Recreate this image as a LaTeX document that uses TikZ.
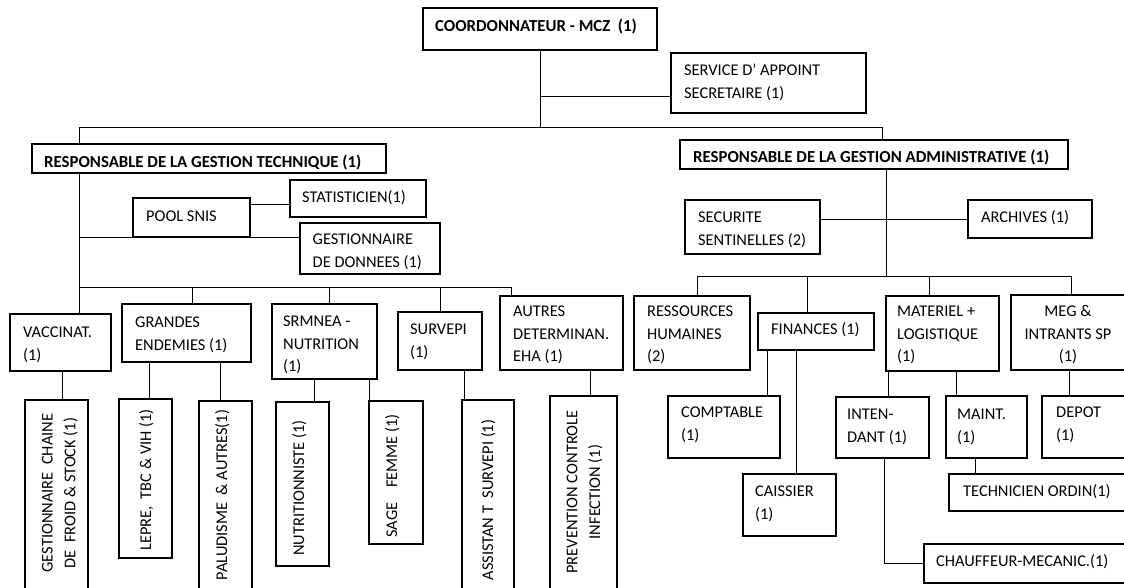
\documentclass[tikz,border=0pt]{standalone}
\usepackage{fontspec}
\setmainfont{Carlito}
\newcommand\fs{\fontsize{16.4}{22.7}\selectfont}
\newcommand\fsb{\fontsize{16.8}{22.7}\selectfont\bfseries}
\newcommand\mybox[5]{\node[boxs, minimum width={#4-#2}, minimum height={#5-#3}] (#1) at ({(#2+#4)/2},{(#3+#5)/2}) {};}
\begin{document}
\begin{tikzpicture}[x=1pt,y=-1pt,
  boxs/.style={draw, line width=1.1pt, inner sep=0pt, outer sep=0pt},
  lbl/.style={inner sep=0pt, anchor=north west, align=left, font=\fs},
  blbl/.style={lbl, font=\fsb},
  vlbl/.style={inner sep=0pt, rotate=90, align=center, font=\fs},
  cn/.style={line width=0.9pt}]
\useasboundingbox (0,0) rectangle (1124,587);
\clip (0,0) rectangle (1124,587);

% ---------- boxes ----------
\mybox{coord}{423}{8}{657}{50}
\mybox{sec}{671}{53}{866}{113}
\mybox{tech}{32}{144}{386}{173}
\mybox{admin}{680}{140}{1068}{169}
\mybox{pool}{133}{198}{250}{237}
\mybox{stat}{290}{180}{426}{217}
\mybox{gest}{300}{223}{440}{274}
\mybox{secu}{685}{200}{820}{254}
\mybox{arch}{968}{200}{1092}{238}
\mybox{vacc}{10}{314}{111}{371}
\mybox{gend}{122}{304}{251}{362}
\mybox{srm}{272}{304}{377}{379}
\mybox{surv}{398}{312}{482}{370}
\mybox{autres}{500}{296}{623}{370}
\mybox{rh}{634}{296}{750}{370}
\mybox{fin}{758}{313}{874}{350}
\mybox{mat}{886}{296}{999}{371}
\mybox{meg}{1011}{295}{1130}{370}
\mybox{comp}{668}{396}{780}{458}
\mybox{cais}{743}{474}{836}{536}
\mybox{inte}{836}{397}{929}{458}
\mybox{maint}{946}{396}{1027}{458}
\mybox{depot}{1042}{396}{1130}{458}
\mybox{tord}{949}{474}{1130}{511}
\mybox{chauf}{924}{544}{1130}{583}
\mybox{gcf}{25}{400}{88}{600}
\mybox{lepre}{119}{399}{172}{558}
\mybox{palu}{199}{401}{252}{600}
\mybox{nutri}{276}{402}{329}{566}
\mybox{sage}{369}{401}{423}{544}
\mybox{assist}{462}{400}{514}{600}
\mybox{prev}{550}{396}{617}{600}

% ---------- labels ----------
\node[blbl] (coord-t) at (435,15.3) {\strut COORDONNATEUR - MCZ~~(1)};
\node[lbl] (sec-t) at (684,59.3) {\strut SERVICE D’ APPOINT\\SECRETAIRE (1)};
\node[blbl] (tech-t) at (44,151) {\strut RESPONSABLE DE LA GESTION TECHNIQUE (1)};
\node[blbl] (admin-t) at (693,146.3) {\strut RESPONSABLE DE LA GESTION ADMINISTRATIVE (1)};
\node[lbl] (pool-t) at (146,205.3) {\strut POOL SNIS};
\node[lbl] (stat-t) at (302,186.3) {\strut STATISTICIEN(1)};
\node[lbl] (gest-t) at (312.5,228.3) {\strut GESTIONNAIRE\\DE DONNEES (1)};
\node[lbl] (secu-t) at (698,206.3) {\strut SECURITE\\SENTINELLES (2)};
\node[lbl] (arch-t) at (981,206.3) {\strut ARCHIVES (1)};
\node[lbl] (vacc-t) at (23,321.3) {\strut VACCINAT.\\(1)};
\node[lbl] (gend-t) at (135,311.3) {\strut GRANDES\\ENDEMIES (1)};
\node[lbl] (srm-t) at (283,310.3) {\strut SRMNEA -\\NUTRITION\\(1)};
\node[lbl] (surv-t) at (410,318.6) {\strut SURVEPI\\(1)};
\node[lbl] (autres-t) at (513,300.3) {\strut AUTRES\\DETERMINAN.\\EHA (1)};
\node[lbl] (rh-t) at (647,300.3) {\strut RESSOURCES\\HUMAINES\\(2)};
\node[lbl] (fin-t) at (771,318.3) {\strut FINANCES (1)};
\node[lbl] (mat-t) at (897,300.3) {\strut MATERIEL +\\LOGISTIQUE\\(1)};
\node[lbl, anchor=north, align=center] (meg-t) at (1068,300.3) {\strut MEG \&\\INTRANTS SP\\(1)};
\node[lbl] (comp-t) at (681,401.3) {\strut COMPTABLE\\(1)};
\node[lbl] (cais-t) at (755,480.3) {\strut CAISSIER\\(1)};
\node[lbl] (inte-t) at (847,403.3) {\strut INTEN-\\DANT (1)};
\node[lbl] (maint-t) at (957,403.3) {\strut MAINT.\\(1)};
\node[lbl] (depot-t) at (1056,401.3) {\strut DEPOT\\(1)};
\node[lbl] (tord-t) at (963,480.3) {\strut TECHNICIEN ORDIN(1)};
\node[lbl] (chauf-t) at (936,550.3) {\strut CHAUFFEUR-MECANIC.(1)};

\node[vlbl] (gcf-t) at (59.5,493) {\strut GESTIONNAIRE~~CHAINE\\\strut DE~~FROID \& STOCK (1)};
\node[vlbl] (lepre-t) at (146.5,480) {\strut LEPRE,~~TBC \& VIH (1)};
\node[vlbl] (palu-t) at (222.5,495) {\strut PALUDISME~~\& AUTRES(1)};
\node[vlbl] (nutri-t) at (299.5,488) {\strut NUTRITIONNISTE (1)};
\node[vlbl] (sage-t) at (392.5,476) {\strut SAGE~~~~FEMME (1)};
\node[vlbl] (assist-t) at (488.5,500) {\strut ASSISTAN T~~SURVEPI (1)};
\node[vlbl] (prev-t) at (584.3,492) {\strut PREVENTION CONTROLE\\\strut INFECTION (1)};

% ---------- connectors: top ----------
\coordinate (busL) at (79,127);
\coordinate (busR) at (882,127);
\coordinate (sb) at (540,96);
\draw[cn] (coord.south) -- (coord.south |- busL);
\draw[cn] (sb) -- (sb -| sec.west);
\draw[cn] (tech.north -| busL) -- (busL) -- (busR) -- (busR |- admin.north);

% ---------- technical branch ----------
\coordinate (tL) at (79,287);
\coordinate (tR) at (511,287);
\draw[cn] (tech.south -| tL) -- (tL);
\draw[cn] (tL |- pool.south) -- (pool.south west);
\draw[cn] (pool.south east) -- (pool.south -| gest.west);
\coordinate (ps) at (250,204);
\draw[cn] (ps) -- (ps -| stat.west);
\draw[cn] (tL) -- (tR) -- (tR |- autres.north);
\draw[cn] (tL) -- (tL |- vacc.north);
\coordinate (t2) at (192,287); \draw[cn] (t2) -- (t2 |- gend.north);
\coordinate (t3) at (329,287); \draw[cn] (t3) -- (t3 |- srm.north);
\coordinate (t4) at (440,287); \draw[cn] (t4) -- (t4 |- surv.north);

\coordinate (x1) at (62,0);  \draw[cn] (vacc.south -| x1) -- (gcf.north -| x1);
\coordinate (x2) at (149,0); \draw[cn] (gend.south -| x2) -- (lepre.north -| x2);
\coordinate (x3) at (220,0); \draw[cn] (gend.south -| x3) -- (palu.north -| x3);
\coordinate (x4) at (314,0); \draw[cn] (srm.south -| x4) -- (nutri.north -| x4);
\coordinate (x5) at (369,0); \draw[cn] (srm.south -| x5) -- (sage.north -| x5);
\coordinate (x6) at (464,0); \draw[cn] (surv.south -| x6) -- (assist.north -| x6);
\coordinate (x7) at (590,0); \draw[cn] (autres.south -| x7) -- (prev.north -| x7);

% ---------- administrative branch ----------
\coordinate (aR) at (886,276);
\draw[cn] (admin.south -| aR) -- (aR);
\draw[cn] (secu.east |- arch.west) -- (arch.west);
\coordinate (rL) at (697,276);
\coordinate (rR) at (1071,276);
\draw[cn] (rL) -- (rR);
\draw[cn] (rL) -- (rL |- rh.north);
\draw[cn] (rR) -- (rR |- meg.north);
\coordinate (r2) at (807.5,276); \draw[cn] (r2) -- (r2 |- fin.north);
\coordinate (r3) at (929,276); \draw[cn] (r3) -- (r3 |- mat.north);

\coordinate (y1) at (767,0);  \draw[cn] (fin.south -| y1) -- (comp.north -| y1);
\coordinate (y2) at (796,0);  \draw[cn] (fin.south -| y2) -- (cais.north -| y2);
\coordinate (y3) at (888,0);  \draw[cn] (mat.south -| y3) -- (inte.north -| y3);
\coordinate (y4) at (956,0);  \draw[cn] (mat.south -| y4) -- (maint.north -| y4);
\coordinate (y5) at (1069,0); \draw[cn] (meg.south -| y5) -- (depot.north -| y5);
\coordinate (y6) at (975,0);  \draw[cn] (maint.south -| y6) -- (tord.north -| y6);
\coordinate (y7) at (884,0);  \draw[cn] (inte.south -| y7) |- (chauf.west);
\end{tikzpicture}
\end{document}
